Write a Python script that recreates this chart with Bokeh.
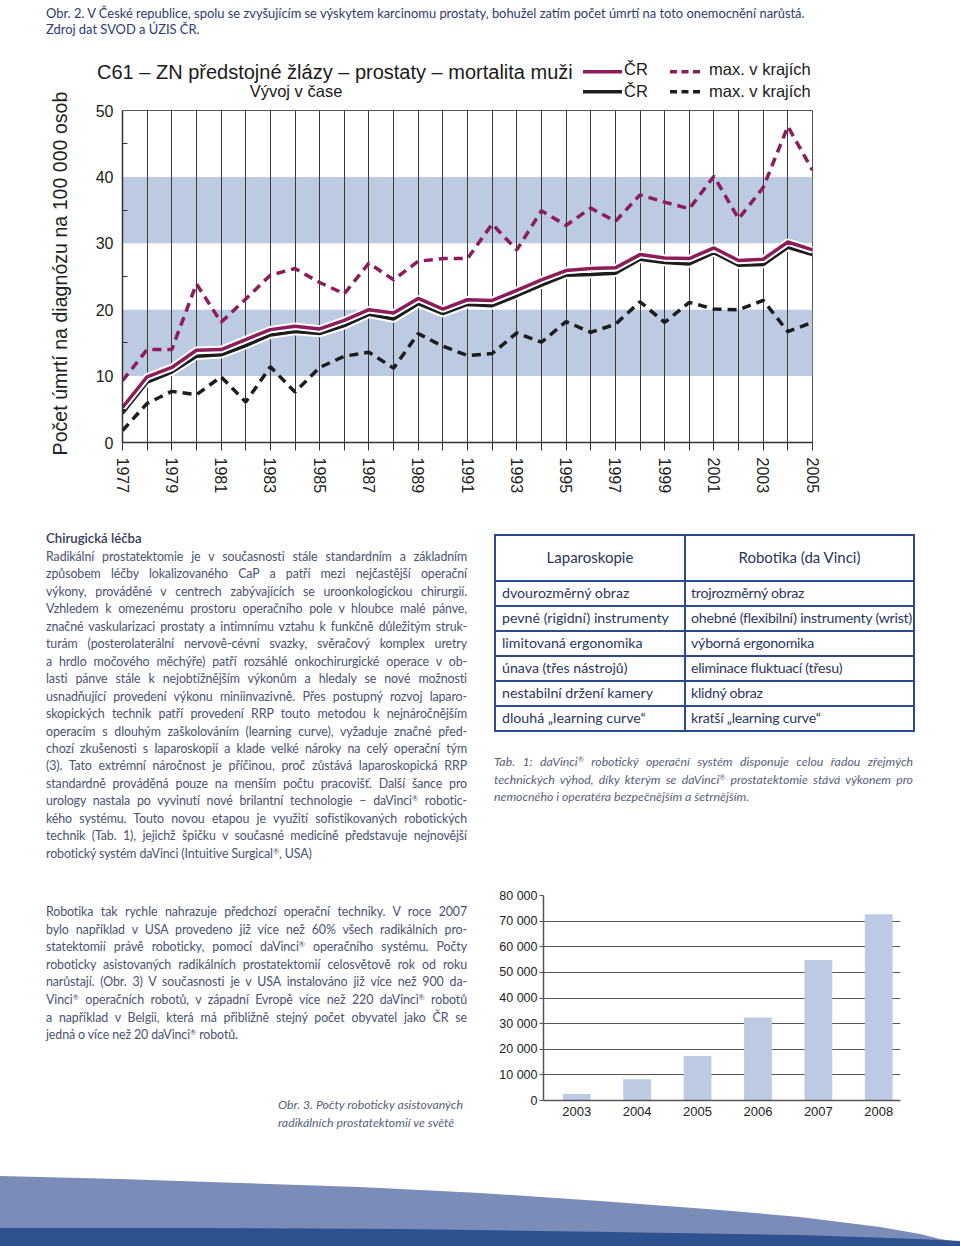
from bokeh.plotting import figure
from bokeh.models import Div, Range1d, FixedTicker, BoxAnnotation, ColumnDataSource
from bokeh.layouts import column, row
from bokeh.embed import file_html
from bokeh.resources import INLINE

# ---------------- data: line chart (mortality per 100 000) ----------------
years = list(range(1977, 2006))
cr_magenta = [5.3, 9.9, 11.3, 13.9, 14.0, 15.5, 17.0, 17.5, 17.1, 18.4, 20.0, 19.5, 21.7, 20.1,
              21.5, 21.4, 22.9, 24.5, 25.9, 26.2, 26.3, 28.3, 27.8, 27.7, 29.3, 27.4, 27.6, 30.2, 29.0]
cr_black = [4.4, 9.1, 10.6, 13.0, 13.2, 14.6, 16.2, 16.7, 16.4, 17.6, 19.3, 18.6, 20.9, 19.4,
            20.8, 20.6, 22.1, 23.7, 25.2, 25.3, 25.5, 27.6, 27.1, 26.9, 28.6, 26.7, 26.8, 29.4, 28.3]
max_magenta = [9.3, 14.0, 14.0, 23.9, 18.1, 21.6, 25.2, 26.2, 24.1, 22.4, 27.0, 24.5, 27.3, 27.7,
               27.7, 32.9, 29.0, 34.9, 32.7, 35.3, 33.3, 37.3, 36.2, 35.2, 40.1, 33.7, 38.4, 47.6, 41.0]
max_black = [1.8, 5.9, 7.7, 7.2, 9.9, 6.1, 11.4, 7.6, 11.3, 13.0, 13.6, 11.2, 16.4, 14.5,
             13.1, 13.4, 16.5, 15.1, 18.2, 16.6, 17.8, 21.2, 18.1, 21.1, 20.1, 20.0, 21.4, 16.7, 18.1]
year_labels = [y for y in years if y % 2 == 1]
y_ticks = [0, 10, 20, 30, 40, 50]
y_minor = [5, 15, 25, 35, 45]
bands = [(10, 20), (30, 40)]
legend_cr = "ČR"
legend_max = "max. v krajích"
chart_title = "C61 – ZN předstojné žlázy – prostaty – mortalita muži"
chart_subtitle = "Vývoj v čase"
y_label = "Počet úmrtí na diagnózu na 100 000 osob"

# ---------------- data: bar chart ----------------
bar_years = [2003, 2004, 2005, 2006, 2007, 2008]
bar_counts = [2500, 8300, 17400, 32400, 54800, 72700]
bar_ticks = [0, 10000, 20000, 30000, 40000, 50000, 60000, 70000, 80000]

# ---------------- texts ----------------
top_caption = [
    "Obr. 2. V České republice, spolu se zvyšujícím se výskytem karcinomu prostaty, bohužel zatím počet úmrtí na toto onemocnění narůstá.",
    "Zdroj dat SVOD a ÚZIS ČR.",
]
heading1 = "Chirugická léčba"
para1 = [
    "Radikální prostatektomie je v současnosti stále standardním a základním",
    "způsobem léčby lokalizovaného CaP a patří mezi nejčastější operační",
    "výkony, prováděné v centrech zabývajících se uroonkologickou chirurgií.",
    "Vzhledem k omezenému prostoru operačního pole v hloubce malé pánve,",
    "značné vaskularizaci prostaty a intimnímu vztahu k funkčně důležitým struk-",
    "turám (posterolaterální nervově-cévní svazky, svěračový komplex uretry",
    "a hrdlo močového měchýře) patří rozsáhlé onkochirurgické operace v ob-",
    "lasti pánve stále k nejobtížnějším výkonům a hledaly se nové možnosti",
    "usnadňující provedení výkonu miniinvazivně. Přes postupný rozvoj laparo-",
    "skopických technik patří provedení RRP touto metodou k nejnáročnějším",
    "operacím s dlouhým zaškolováním (learning curve), vyžaduje značné před-",
    "chozí zkušenosti s laparoskopií a klade velké nároky na celý operační tým",
    "(3). Tato extrémní náročnost je příčinou, proč zůstává laparoskopická RRP",
    "standardně prováděná pouze na menším počtu pracovišť. Další šance pro",
    "urology nastala po vyvinutí nové brilantní technologie – daVinci<sup>®</sup> robotic-",
    "kého systému. Touto novou etapou je využití sofistikovaných robotických",
    "technik (Tab. 1), jejichž špičku v současné medicíně představuje nejnovější",
    "robotický systém daVinci (Intuitive Surgical<sup>®</sup>, USA)",
]
table_head = ["Laparoskopie", "Robotika (da Vinci)"]
table_lap = ["dvourozměrný obraz", "pevné (rigidní) instrumenty", "limitovaná ergonomika",
             "únava (třes nástrojů)", "nestabilní držení kamery", "dlouhá „learning curve“"]
table_rob = ["trojrozměrný obraz", "ohebné (flexibilní) instrumenty (wrist)", "výborná ergonomika",
             "eliminace fluktuací (třesu)", "klidný obraz", "kratší „learning curve“"]
table_caption = [
    "Tab. 1: daVinci<sup>®</sup> robotický operační systém disponuje celou řadou zřejmých",
    "technických výhod, díky kterým se daVinci<sup>®</sup> prostatektomie stává výkonem pro",
    "nemocného i operatéra bezpečnějším a šetrnějším.",
]
para2 = [
    "Robotika tak rychle nahrazuje předchozí operační techniky. V roce 2007",
    "bylo například v USA provedeno již více než 60% všech radikálních pro-",
    "statektomií právě roboticky, pomocí daVinci<sup>®</sup> operačního systému. Počty",
    "roboticky asistovaných radikálních prostatektomií celosvětově rok od roku",
    "narůstají. (Obr. 3) V současnosti je v USA instalováno již více než 900 da-",
    "Vinci<sup>®</sup> operačních robotů, v západní Evropě více než 220 daVinci<sup>®</sup> robotů",
    "a například v Belgii, která má přibližně stejný počet obyvatel jako ČR se",
    "jedná o více než 20 daVinci<sup>®</sup> robotů.",
]
bar_caption = [
    "Obr. 3. Počty roboticky asistovaných",
    "radikálních prostatektomií ve světě",
]

# decorative wave at page bottom (page pixel coordinates)
wave_light_x = [0, 120, 240, 360, 480, 600, 720, 800, 880, 920, 940, 960, 960, 0]
wave_light_y = [1176, 1179, 1183, 1187, 1193, 1201, 1210, 1217, 1227, 1234, 1239, 1242, 1246, 1246]
wave_dark_x = [0, 200, 400, 612, 800, 918, 960, 960, 0]
wave_dark_y = [1228, 1228, 1229, 1232, 1235, 1239, 1241, 1246, 1246]

# ---------------- styles ----------------
CF = "Liberation Sans"
TF = "Lato"
MAGENTA = "#8c1c5a"
INK = "#1c1c1c"
BAND = "#bccae2"
BAR = "#bccbe3"
GRID = "#3a3a3a"
TEXT = "#4a5272"
NAVY = "#2e4a8c"

# ---------------- line chart ----------------
p = figure(width=880, height=400, x_range=Range1d(1977, 2005), y_range=Range1d(0, 50),
           output_backend="svg", toolbar_location=None,
           min_border_left=42, min_border_right=148, min_border_top=10, min_border_bottom=58,
           margin=(0, 0, 0, 0))
p.background_fill_color = "white"
p.border_fill_color = "white"
p.outline_line_color = "#555555"
p.outline_line_width = 1

for lo, hi in bands:
    p.add_layout(BoxAnnotation(bottom=lo, top=hi, fill_color=BAND, fill_alpha=1.0,
                               line_alpha=0, level="image"))

p.xgrid.ticker = FixedTicker(ticks=years)
p.xgrid.grid_line_color = GRID
p.xgrid.grid_line_width = 1
p.ygrid.grid_line_color = None

p.xaxis.ticker = FixedTicker(ticks=years)
p.xaxis.major_label_overrides = {y: (str(y) if y in year_labels else "") for y in years}
p.xaxis.major_label_orientation = "vertical"
p.xaxis.major_label_text_font = CF
p.xaxis.major_label_text_font_size = "16px"
p.xaxis.major_label_text_color = "#222222"
p.xaxis.major_label_standoff = 7
p.xaxis.major_tick_in = 0
p.xaxis.major_tick_out = 8
p.xaxis.minor_tick_out = 0
p.xaxis.minor_tick_in = 0
p.xaxis.axis_line_color = "#333333"
p.xaxis.axis_line_width = 1.5
p.xaxis.major_tick_line_color = "#333333"

p.yaxis.ticker = FixedTicker(ticks=y_ticks, minor_ticks=y_minor)
p.yaxis.major_tick_in = 0
p.yaxis.major_tick_out = 0
p.yaxis.minor_tick_in = 5
p.yaxis.minor_tick_out = 0
p.yaxis.minor_tick_line_color = "#333333"
p.yaxis.axis_line_color = "#333333"
p.yaxis.axis_line_width = 1.5
p.yaxis.major_label_text_font = CF
p.yaxis.major_label_text_font_size = "16px"
p.yaxis.major_label_text_color = "#222222"
p.yaxis.major_label_standoff = 9

src = ColumnDataSource(dict(year=years, cr_m=cr_magenta, cr_b=cr_black,
                            mx_m=max_magenta, mx_b=max_black))
p.line("year", "cr_b", source=src, line_color="white", line_width=7.5)
p.line("year", "cr_b", source=src, line_color=INK, line_width=3.5)
p.line("year", "cr_m", source=src, line_color="white", line_width=7.5)
p.line("year", "cr_m", source=src, line_color=MAGENTA, line_width=3.5)
p.line("year", "mx_m", source=src, line_color=MAGENTA, line_width=3.5, line_dash="9 6")
p.line("year", "mx_b", source=src, line_color=INK, line_width=3.5, line_dash="9 6")

# ---------------- bar chart ----------------
b = figure(width=480, height=300, x_range=Range1d(2002.45, 2008.36), y_range=Range1d(0, 80000),
           output_backend="svg", toolbar_location=None,
           min_border_left=63, min_border_right=60, min_border_top=25, min_border_bottom=70,
           margin=(0, 0, 0, 0))
b.background_fill_color = "white"
b.border_fill_color = "white"
b.outline_line_color = None
b.vbar(x=bar_years, top=bar_counts, width=0.46, fill_color=BAR, line_color=None)
b.xgrid.grid_line_color = None
b.ygrid.ticker = FixedTicker(ticks=bar_ticks)
b.ygrid.grid_line_color = "#555555"
b.ygrid.grid_line_width = 1
b.yaxis.ticker = FixedTicker(ticks=bar_ticks)
b.yaxis.major_label_overrides = {t: f"{t:,}".replace(",", " ") for t in bar_ticks}
b.yaxis.major_tick_in = 0
b.yaxis.major_tick_out = 4
b.yaxis.minor_tick_out = 0
b.yaxis.major_tick_line_color = "#555555"
b.yaxis.axis_line_color = "#555555"
b.yaxis.axis_line_width = 1.5
b.yaxis.major_label_standoff = 2
b.yaxis.major_label_text_font = CF
b.yaxis.major_label_text_font_size = "12.5px"
b.yaxis.major_label_text_color = "#222222"
b.xaxis.ticker = FixedTicker(ticks=bar_years)
b.xaxis.major_tick_in = 0
b.xaxis.major_tick_out = 0
b.xaxis.minor_tick_out = 0
b.xaxis.axis_line_color = "#555555"
b.xaxis.axis_line_width = 1.5
b.xaxis.major_label_standoff = 6
b.xaxis.major_label_text_font = CF
b.xaxis.major_label_text_font_size = "13px"
b.xaxis.major_label_text_color = "#222222"


# ---------------- HTML text blocks ----------------
def line_block(lines, left, top, width, lh, css, justify=True):
    out = []
    for i, t in enumerate(lines):
        al = "justify" if (justify and i < len(lines) - 1) else "left"
        out.append(
            f'<div style="position:absolute;left:{left}px;top:{top + i * lh:.2f}px;'
            f'width:{width}px;height:{lh}px;line-height:{lh}px;text-align:{al};'
            f'text-align-last:{al};{css}">{t}</div>')
    return "".join(out)


SUP = "<style>sup{font-size:0.6em;line-height:0;vertical-align:0.55em}</style>"
BODY_CSS = f"font-family:{TF};font-size:12.4px;letter-spacing:-0.1px;color:{TEXT};font-weight:400;"
ITAL_CSS = f"font-family:{TF};font-size:12.3px;color:#58607a;font-style:italic;font-weight:400;"


def box(inner, w_, h_):
    return (f'{SUP}<div style="position:relative;width:{w_}px;height:{h_}px;overflow:visible">'
            f'{inner}</div>')


# top caption (page y 0..48)
cap_html = line_block(top_caption, 46, 5, 900, 16,
                      f"font-family:{TF};font-size:12.9px;color:#2d3b6e;white-space:nowrap;",
                      justify=False)
cap_div = Div(text=box(cap_html, 960, 48), width=960, height=48, margin=(0, 0, 0, 0))

# chart title + legend (page x 80..960, y 48..100)
svg_t = (f'<svg width="880" height="52" style="overflow:visible" xmlns="http://www.w3.org/2000/svg" '
         f'font-family="{CF}" fill="#1a1a1a">'
         f'<text x="17" y="31" font-size="20">{chart_title}</text>'
         f'<text x="216" y="49" font-size="16.5" text-anchor="middle">{chart_subtitle}</text>'
         f'<line x1="503" y1="23.7" x2="542" y2="23.7" stroke="{MAGENTA}" stroke-width="3.5"/>'
         f'<text x="544" y="27" font-size="16.5">{legend_cr}</text>'
         f'<line x1="503" y1="43.7" x2="542" y2="43.7" stroke="{INK}" stroke-width="3.5"/>'
         f'<text x="544" y="48.5" font-size="16.5">{legend_cr}</text>'
         f'<line x1="590" y1="23.7" x2="620" y2="23.7" stroke="{MAGENTA}" stroke-width="3.5" stroke-dasharray="7 4.5"/>'
         f'<text x="629" y="27" font-size="16.5">{legend_max}</text>'
         f'<line x1="590" y1="43.7" x2="620" y2="43.7" stroke="{INK}" stroke-width="3.5" stroke-dasharray="7 4.5"/>'
         f'<text x="629" y="48.5" font-size="16.5">{legend_max}</text>'
         f'</svg>')
title_div = Div(text=svg_t, width=880, height=52, margin=(0, 0, 0, 0))

# rotated y-axis label (page x 0..80, y 48..500)
svg_y = (f'<svg width="80" height="452" style="overflow:visible" xmlns="http://www.w3.org/2000/svg">'
         f'<text transform="translate(67,225.5) rotate(-90)" text-anchor="middle" '
         f'font-family="{CF}" font-size="19.6" fill="#222222">{y_label}</text></svg>')
ylab_div = Div(text=svg_y, width=80, height=452, margin=(0, 0, 0, 0))

# middle: paragraph 1 + table + table caption (page y 500..870)
mid = ""
mid += (f'<div style="position:absolute;left:46px;top:30.3px;height:17.47px;line-height:17.47px;'
        f'font-family:{TF};font-size:13.2px;font-weight:600;color:#333a5c;">{heading1}</div>')
mid += line_block(para1, 46, 47.8, 421, 17.47, BODY_CSS)

cell = f"border:2px solid {NAVY};"
rows_html = (f'<colgroup><col style="width:190px"><col style="width:229px"></colgroup>'
             f'<tr style="height:46px"><th style="{cell}font-weight:normal;font-size:15px;'
             f'text-align:center;padding:0">{table_head[0]}</th>'
             f'<th style="{cell}font-weight:normal;font-size:15px;text-align:center;padding:0">{table_head[1]}</th></tr>')
for a, r in zip(table_lap, table_rob):
    rows_html += (f'<tr style="height:25px"><td style="{cell}padding:0 0 0 6px;white-space:nowrap">{a}</td>'
                  f'<td style="{cell}padding:0 0 0 5px;white-space:nowrap;letter-spacing:-0.25px">{r}</td></tr>')
mid += (f'<table style="position:absolute;left:494px;top:34px;width:419px;border-collapse:collapse;'
        f'table-layout:fixed;font-family:{TF};font-size:14.2px;color:#2b365e;">{rows_html}</table>')
mid += line_block(table_caption, 494, 253.3, 419, 17.5, ITAL_CSS)
mid_div = Div(text=box(mid, 960, 370), width=960, height=370, margin=(0, 0, 0, 0))

# bottom-left: paragraph 2 + figure caption (page y 870..1170)
bot = line_block(para2, 46, 33.2, 421, 17.57, BODY_CSS)
bot += line_block(bar_caption, 278, 226, 200, 18, ITAL_CSS + "white-space:nowrap;", justify=False)
bot_div = Div(text=box(bot, 480, 300), width=480, height=300, margin=(0, 0, 0, 0))

# wave (page y 1170..1246)
pts_l = " ".join(f"{x},{y}" for x, y in zip(wave_light_x, wave_light_y))
pts_d = " ".join(f"{x},{y}" for x, y in zip(wave_dark_x, wave_dark_y))
svg_w = (f'<svg width="960" height="76" viewBox="0 1170 960 76" xmlns="http://www.w3.org/2000/svg">'
         f'<polygon points="{pts_l}" fill="#7b8cb8"/><polygon points="{pts_d}" fill="#2e5190"/></svg>')
wave_div = Div(text=svg_w, width=960, height=76, margin=(0, 0, 0, 0))

layout = column(cap_div,
                row(ylab_div, column(title_div, p, spacing=0), spacing=0),
                mid_div,
                row(bot_div, b, spacing=0),
                wave_div,
                spacing=0)

open("out.html", "w").write(file_html(layout, INLINE))
